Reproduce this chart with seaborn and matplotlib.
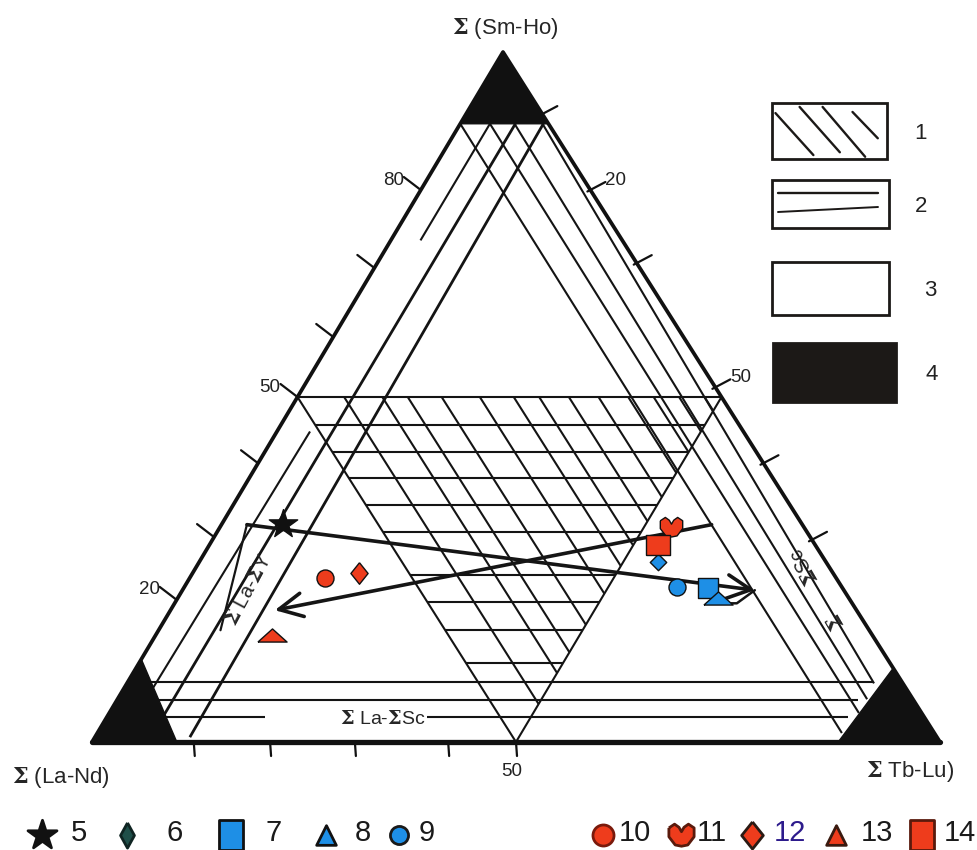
import matplotlib
matplotlib.use("Agg")
import matplotlib.pyplot as plt
from matplotlib.path import Path
import numpy as np
import seaborn as sns

# ---- samples, composition in % (La-Nd, Sm-Ho, Tb-Lu) ----
sample_ids = ["5", "6", "7", "8", "9", "10", "11", "12", "13", "14"]
la_nd = [61.2, 19.8, 15.9, 15.4, 19.4, 60.2, 15.6, 55.9, 70.8, 18.5]
sm_ho = [31.6, 26.1, 22.3, 20.9, 22.5, 23.8, 31.2, 24.5, 15.5, 28.6]
tb_lu = [7.2, 54.1, 61.8, 63.7, 58.1, 16.0, 53.2, 19.6, 13.7, 52.9]

# trend arrows, vertices as (La-Nd, Sm-Ho, Tb-Lu)
trend_a = [(76.5, 16.2, 7.3), (65.5, 31.5, 3.0), (10.5, 22.0, 67.5)]
trend_a_hook = [(10.5, 22.0, 67.5), (13.6, 20.1, 66.3), (17.1, 20.1, 62.8)]
trend_b = [(10.7, 31.5, 57.8), (68.6, 19.1, 12.3)]

# field 1 (hatched): Sm-Ho levels and La-Nd levels of the hatch lines
hatch_smho = [46, 42, 38.3, 34.3, 30.4, 24.2, 20.3, 16.2, 11.4]
hatch_land = [44.5, 40, 37, 33, 28.5, 24.5, 21.5, 18, 14.5, 11, 8, 5, 2]

# field 2: lines along the sides
right_top_land = [10.4, 6.9, 4.0, 0.7]
right_end_land = [10.9, 7.4, 5.4, 3.4]
right_end_smho = [1.3, 4.2, 6.2, 8.5]
left_lines = [((89.6, 3.5), (72.7, 3.5)), ((45.0, 3.9), (7.9, 3.4)),
              ((89.6, 6.5), (3.5, 6.6)), ((89.6, 9.8), (0.7, 11.2))]  # (Sm-Ho, Tb-Lu)
left_widths = [1.5, 1.5, 2.0, 2.0]
bottom_lines = [(8.7, 2.5, 87.9), (6.1, 4.6, 87.4), (3.6, 6.8, 18.7), (3.6, 37.8, 87.4)]

# field 4: black corners
black_top = [(0, 100, 0), (10.4, 89.6, 0), (0, 89.6, 10.4)]
black_left = [(100, 0, 0), (88, 12, 0), (90, 0, 10)]
black_right = [(0, 0, 100), (12, 0, 88), (0, 10.7, 89.3)]

# ticks
left_ticks = [20.6, 29.7, 40.4, 50, 58.7, 68.7, 80]
left_tick_text = ["20", "", "", "50", "", "", "80"]
right_ticks = [9, 20, 30.6, 48.6, 59.6, 70.7]
right_tick_text = ["", "20", "", "50", "", ""]
bottom_ticks = [12, 21, 31, 42, 50]
bottom_tick_text = ["", "", "", "", "50"]

RED = "#ee3c1c"
BLUE = "#1e8fe6"

sns.set_style("white")
plt.rcParams["font.family"] = ["Liberation Sans", "DejaVu Sans"]
plt.rcParams["mathtext.fontset"] = "dejavuserif"

fig = plt.figure(figsize=(9.77, 8.5), dpi=100)
ax = fig.add_axes([0, 0, 1, 1])
ax.set_xlim(0, 977)
ax.set_ylim(850, 0)
ax.axis("off")

V_LA, V_SM, V_TB = (92, 742), (503, 52), (940, 742)


def tern(a, b, c):
    a, b, c = np.asarray(a, float), np.asarray(b, float), np.asarray(c, float)
    s = a + b + c
    x = (a * V_LA[0] + b * V_SM[0] + c * V_TB[0]) / s
    y = (a * V_LA[1] + b * V_SM[1] + c * V_TB[1]) / s
    return x, y


def seg(p, q, lw=1.5, z=2):
    x1, y1 = tern(*p)
    x2, y2 = tern(*q)
    ax.plot([x1, x2], [y1, y2], color="#141414", lw=lw, solid_capstyle="butt", zorder=z)


def poly(pts, **kw):
    xy = np.array([tern(*p) for p in pts])
    ax.plot(xy[:, 0], xy[:, 1], **kw)


# hatched field
for b in hatch_smho:
    seg((50, b, 50 - b), (50 - b, b, 50))
for a in hatch_land:
    seg((a, 50, 50 - a), (a, 50 - a, 50))
seg((50, 50, 0), (0, 50, 50))
seg((50, 50, 0), (50, 0, 50))
seg((0, 50, 50), (50, 0, 50))

# lines along the sides
for at, ae, be in zip(right_top_land, right_end_land, right_end_smho):
    seg((at, 89.6, 10.4 - at), (ae, be, 100 - ae - be))
for ((b1, c1), (b2, c2)), w in zip(left_lines, left_widths):
    seg((100 - b1 - c1, b1, c1), (100 - b2 - c2, b2, c2), lw=w)
for b, c1, c2 in bottom_lines:
    seg((100 - b - c1, b, c1), (100 - b - c2, b, c2))

# black corners
for tri in (black_top, black_left, black_right):
    xy = np.array([tern(*p) for p in tri])
    ax.fill(xy[:, 0], xy[:, 1], color="#111111", zorder=4)

# triangle frame
poly([(100, 0, 0), (0, 100, 0), (0, 0, 100)], color="#111111", lw=2.7, zorder=5)
poly([(100, 0, 0), (0, 0, 100)], color="#111111", lw=3.8, zorder=5)

# ticks
for b, t in zip(left_ticks, left_tick_text):
    x, y = tern(100 - b, b, 0)
    ax.plot([x, x - 17], [y, y - 13], color="#111111", lw=1.6)
    if t:
        ax.text(x - 17, y - 10, t, fontsize=13.5, ha="right", va="center", color="#222222")
for c, t in zip(right_ticks, right_tick_text):
    x, y = tern(0, 100 - c, c)
    ax.plot([x - 3, x + 15], [y + 1.5, y - 8], color="#111111", lw=1.6)
    if t:
        ax.text(x + 15, y - 10, t, fontsize=13.5, ha="left", va="center", color="#222222")
for c, t in zip(bottom_ticks, bottom_tick_text):
    x, y = tern(100 - c, 0, c)
    ax.plot([x, x + 1], [y, y + 14], color="#111111", lw=1.6)
    if t:
        ax.text(x - 4, y + 29, t, fontsize=13.5, ha="center", va="center", color="#222222")

# trend arrows
arrow_kw = dict(arrowstyle="->,head_length=1.0,head_width=0.5", lw=2.6, color="#151515",
                shrinkA=0, shrinkB=0, mutation_scale=17)
poly(trend_a[:2], color="#151515", lw=1.6, zorder=3)
ax.annotate("", xy=tern(*trend_a[2]), xytext=tern(*trend_a[1]), arrowprops=arrow_kw, zorder=3)
poly(trend_a_hook, color="#151515", lw=1.8, zorder=3)
ax.annotate("", xy=tern(*trend_b[1]), xytext=tern(*trend_b[0]), arrowprops=arrow_kw, zorder=3)

# samples
heart = Path([(-1, 0.6), (-0.55, 0.9), (-0.2, 0.65), (0, 0.3), (0.2, 0.65), (0.55, 0.9),
              (1, 0.6), (1, -0.1), (0.5, -0.75), (0, -0.85), (-0.5, -0.75), (-1, -0.1), (-1, 0.6)])
flat_tri = Path([(-1, -0.45), (1, -0.45), (0, 0.45), (-1, -0.45)])
diamond = Path([(0, 1), (0.8, 0), (0, -1), (-0.8, 0), (0, 1)])
slim_diamond = Path([(0, 1), (0.55, 0), (0, -1), (-0.55, 0), (0, 1)])
wide_rect = Path([(-1, -0.83), (1, -0.83), (1, 0.83), (-1, 0.83), (-1, -0.83)])
tall_rect = Path([(-0.8, -1), (0.8, -1), (0.8, 1), (-0.8, 1), (-0.8, -1)])

point_style = {
    "5": ("*", "#111111", 460), "6": ("D", BLUE, 70), "7": ("s", BLUE, 200),
    "8": (flat_tri, BLUE, 440), "9": ("o", BLUE, 150), "10": ("o", RED, 150),
    "11": (heart, RED, 260), "12": (diamond, RED, 240), "13": (flat_tri, RED, 440),
    "14": (wide_rect, RED, 300),
}
px, py = tern(la_nd, sm_ho, tb_lu)
for i, sid in enumerate(sample_ids):
    m, col, s = point_style[sid]
    sns.scatterplot(x=[px[i]], y=[py[i]], marker=m, color=col, s=s, edgecolor="#111111",
                    linewidth=1.0, ax=ax, zorder=7, legend=False)

# labels inside the diagram
ax.text(*tern(70.2, 22.0, 7.8), r"$\mathbf{\Sigma}$ La-$\mathbf{\Sigma}$Y", fontsize=14.5,
        rotation=62, ha="center", va="center", zorder=6)
ax.text(*tern(2.8, 25.5, 71.7), r"$\mathbf{\Sigma}$Sc", fontsize=14.5, rotation=120,
        ha="center", va="center", zorder=6)
ax.text(*tern(3.2, 17.5, 79.3), r"$\mathbf{\Sigma}$", fontsize=14.5, rotation=120,
        ha="center", va="center", zorder=6)
ax.text(*tern(64.0, 3.4, 32.6), r"$\mathbf{\Sigma}$ La-$\mathbf{\Sigma}$Sc", fontsize=14,
        ha="center", va="center", zorder=6)

# corner titles
ax.text(505, 28, r"$\mathbf{\Sigma}$ (Sm-Ho)", fontsize=16, ha="center", va="center")
ax.text(12, 778, r"$\mathbf{\Sigma}$ (La-Nd)", fontsize=16, ha="left", va="center")
ax.text(866, 772, r"$\mathbf{\Sigma}$ Tb-Lu)", fontsize=16, ha="left", va="center")

# legend of fields
boxes = [(772, 103, 887, 159), (772, 180, 889, 228), (772, 262, 889, 315), (773, 343, 896, 402)]
box_text = ["1", "2", "3", "4"]
box_text_x = [921, 921, 930, 932]
for (x0, y0, x1, y1), t, tx in zip(boxes, box_text, box_text_x):
    fill = "#1c1917" if t == "4" else "white"
    ax.add_patch(plt.Rectangle((x0, y0), x1 - x0, y1 - y0, facecolor=fill,
                               edgecolor="#1c1917", lw=2.0))
    ax.text(tx, (y0 + y1) / 2 + 2, t, fontsize=16, ha="center", va="center", color="#222222")
bx0, by0, bx1, by1 = boxes[0]
for f in [(0.03, 0.18, 0.36, 0.93), (0.24, 0.07, 0.59, 0.88), (0.44, 0.07, 0.81, 0.96),
          (0.70, 0.16, 0.92, 0.63)]:
    ax.plot([bx0 + f[0] * (bx1 - bx0), bx0 + f[2] * (bx1 - bx0)],
            [by0 + f[1] * (by1 - by0), by0 + f[3] * (by1 - by0)], color="#1c1917", lw=1.7)
bx0, by0, bx1, by1 = boxes[1]
ax.plot([bx0 + 6, bx1 - 11], [by0 + 13, by0 + 13], color="#1c1917", lw=1.7)
ax.plot([bx0 + 6, bx1 - 11], [by0 + 32, by0 + 27], color="#1c1917", lw=1.4)

# legend of samples
legend_items = [
    ("5", "*", "#111111", "#111111", 480, 42, 79, "#1a1a1a"),
    ("6", slim_diamond, "#1f4f49", "#0f2422", 330, 127, 175, "#1a1a1a"),
    ("7", tall_rect, BLUE, "#111111", 440, 231, 274, "#1a1a1a"),
    ("8", "^", BLUE, "#111111", 200, 326, 363, "#1a1a1a"),
    ("9", "o", BLUE, "#1a1a1a", 170, 399, 427, "#1a1a1a"),
    ("10", "o", RED, "#7a1a0c", 230, 603, 635, "#1a1a1a"),
    ("11", heart, RED, "#5a1a0c", 330, 681, 712, "#1a1a1a"),
    ("12", diamond, RED, "#2a1a14", 380, 752, 790, "#2d1b8c"),
    ("13", "^", RED, "#3a1a10", 200, 836, 877, "#1a1a1a"),
    ("14", tall_rect, RED, "#5a1a0c", 470, 922, 960, "#1a1a1a"),
]
for t, m, face, edge, s, xm, xt, tcol in legend_items:
    sns.scatterplot(x=[xm], y=[835], marker=m, color=face, s=s, edgecolor=edge,
                    linewidth=2.0, ax=ax, zorder=7, legend=False)
    ax.text(xt, 833, t, fontsize=21, ha="center", va="center", color=tcol,
            family=["Liberation Sans Narrow", "Liberation Sans", "DejaVu Sans"])

fig.savefig("out.png", dpi=100, facecolor="white")
